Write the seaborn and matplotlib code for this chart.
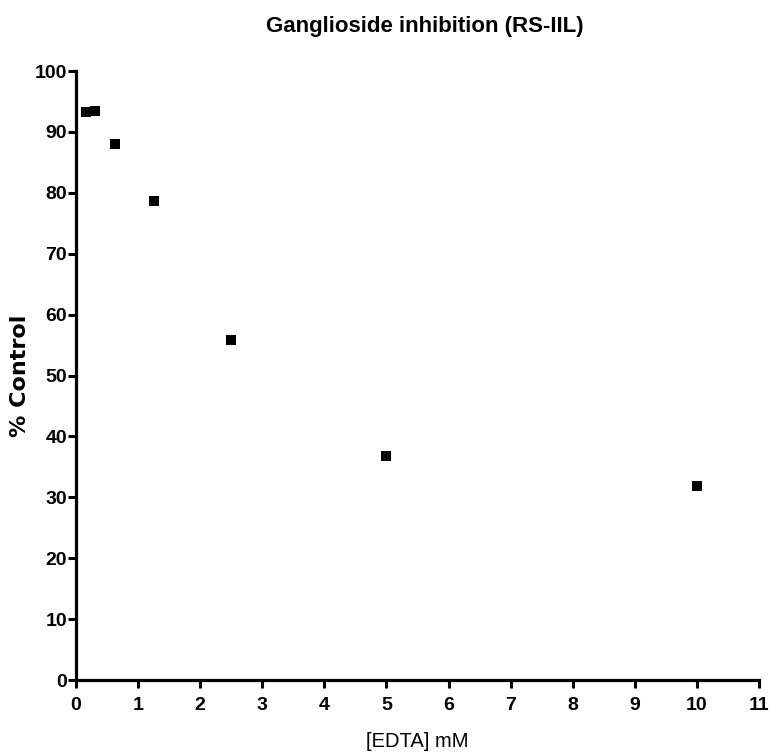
import matplotlib
matplotlib.use("Agg")
import matplotlib.pyplot as plt
import seaborn as sns
import pandas as pd

# EDTA concentrations (mM) and % of control
edta_mM = [0.156, 0.3125, 0.625, 1.25, 2.5, 5.0, 10.0]
pct_control = [93.3, 93.5, 88.1, 78.6, 55.9, 36.8, 31.9]
x_ticks = list(range(0, 12))
y_ticks = list(range(0, 101, 10))

df = pd.DataFrame({"edta": edta_mM, "pct": pct_control})

sns.set_style("ticks")
plt.rcParams["font.family"] = ["Liberation Sans", "DejaVu Sans"]
plt.rcParams["text.color"] = "black"
plt.rcParams["axes.labelcolor"] = "black"
plt.rcParams["xtick.color"] = "black"
plt.rcParams["ytick.color"] = "black"

fig = plt.figure(figsize=(7.7, 7.56), dpi=100)
ax = fig.add_axes([0.0987, 0.1005, 0.887, 0.8055])

sns.scatterplot(data=df, x="edta", y="pct", ax=ax, marker="s", s=45,
                color="black", edgecolor="black", linewidth=0, zorder=3,
                clip_on=False)

ax.set_xlim(0, 11)
ax.set_ylim(0, 100)
ax.set_xticks(x_ticks)
ax.set_yticks(y_ticks)
ax.tick_params(axis="both", direction="out", length=6, width=2.2,
               labelsize=14)
ax.tick_params(axis="x", pad=6)
ax.tick_params(axis="y", pad=0.5)
for lab in ax.get_xticklabels() + ax.get_yticklabels():
    lab.set_fontweight("bold")
for side in ["top", "right"]:
    ax.spines[side].set_visible(False)
for side in ["left", "bottom"]:
    ax.spines[side].set_linewidth(2.3)
    ax.spines[side].set_color("black")

ax.set_title("Ganglioside inhibition (RS-IIL)", fontsize=16, fontweight="bold",
             pad=28, x=0.51)
ax.set_xlabel("[EDTA] mM", fontsize=14.5)
ax.xaxis.set_label_coords(0.5, -0.085)
ax.set_ylabel("% Control", fontsize=16, fontweight="bold",
              family=["DejaVu Sans"], va="center")
ax.yaxis.set_label_coords(-0.082, 0.5)

fig.savefig("out.png", dpi=100)
